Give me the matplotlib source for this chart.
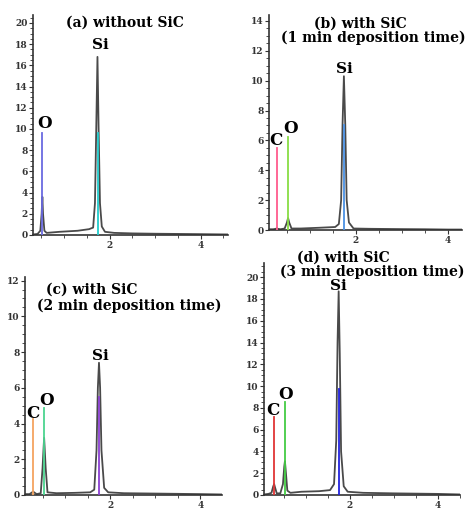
import matplotlib
matplotlib.use('Agg')
import matplotlib.pyplot as plt
from matplotlib.ticker import MultipleLocator, AutoMinorLocator

# EDS spectra (energy in keV, counts in arb. units)
e_a = [0.32, 0.42, 0.48, 0.51, 0.525, 0.54, 0.57, 0.62, 0.9, 1.3, 1.55, 1.64, 1.68, 1.71, 1.735,
       1.76, 1.79, 1.83, 1.9, 2.1, 2.5, 3.0, 3.5, 4.0, 4.6]
c_a = [0.05, 0.1, 0.4, 2.0, 3.6, 2.0, 0.4, 0.2, 0.3, 0.4, 0.55, 0.7, 3.0, 10.5, 16.8,
       10.0, 3.0, 0.8, 0.3, 0.2, 0.15, 0.12, 0.1, 0.08, 0.05]

e_b = [0.11, 0.2, 0.26, 0.28, 0.30, 0.36, 0.45, 0.50, 0.525, 0.55, 0.6, 0.8, 1.2, 1.55, 1.63,
       1.68, 1.71, 1.74, 1.77, 1.8, 1.85, 1.95, 2.3, 3.0, 3.5, 4.0, 4.31]
c_b = [0.05, 0.05, 0.08, 0.12, 0.08, 0.05, 0.1, 0.5, 0.8, 0.5, 0.1, 0.1, 0.15, 0.2, 0.4,
       2.0, 7.0, 10.3, 7.0, 2.0, 0.5, 0.1, 0.08, 0.06, 0.05, 0.03, 0.03]

e_c = [0.1, 0.2, 0.26, 0.28, 0.30, 0.36, 0.45, 0.49, 0.525, 0.56, 0.60, 0.8, 1.2, 1.55, 1.64,
       1.69, 1.72, 1.745, 1.77, 1.8, 1.86, 1.95, 2.3, 3.0, 4.0, 4.48]
c_c = [0.05, 0.05, 0.15, 0.2, 0.15, 0.05, 0.1, 1.5, 3.2, 1.5, 0.15, 0.1, 0.12, 0.15, 0.3,
       2.5, 6.0, 7.4, 6.0, 2.5, 0.4, 0.15, 0.1, 0.08, 0.05, 0.03]

e_d = [0.05, 0.15, 0.22, 0.26, 0.28, 0.30, 0.34, 0.42, 0.48, 0.51, 0.525, 0.54, 0.58, 0.65, 0.9,
       1.3, 1.55, 1.64, 1.69, 1.72, 1.745, 1.77, 1.8, 1.86, 1.95, 2.3, 3.0, 4.0, 4.5]
c_d = [0.05, 0.1, 0.2, 0.8, 1.0, 0.7, 0.15, 0.15, 1.0, 2.6, 3.1, 2.4, 0.4, 0.2, 0.3,
       0.35, 0.45, 1.0, 5.0, 14.0, 18.7, 13.0, 4.0, 0.8, 0.3, 0.2, 0.15, 0.1, 0.05]

# element marker lines: element, energy, height
mark_a = [('O', 0.525, 9.6), ('Si', 1.75, 9.6)]
mark_b = [('C', 0.277, 5.5), ('O', 0.525, 6.2), ('Si', 1.75, 7.0)]
mark_c = [('C', 0.277, 4.25), ('O', 0.525, 4.85), ('Si', 1.75, 5.5)]
mark_d = [('C', 0.277, 7.2), ('O', 0.525, 8.5), ('Si', 1.75, 9.7)]

# element labels: text, x, y (data coords)
lab_a = [('O', 0.57, 10.5), ('Si', 1.79, 17.9)]
lab_b = [('C', 0.27, 5.97), ('O', 0.57, 6.8), ('Si', 1.76, 10.8)]
lab_c = [('C', 0.28, 4.57), ('O', 0.57, 5.27), ('Si', 1.77, 7.8)]
lab_d = [('C', 0.26, 7.8), ('O', 0.55, 9.2), ('Si', 1.74, 19.2)]

W, H = 473, 509
fig = plt.figure(figsize=(W / 100, H / 100), dpi=100)

panels = [
    # rect (px: left, top, right, bottom), xlim, ylim, data, marker colours
    ((33, 15, 228, 235), (0.32, 4.6), (0, 20.75), e_a, c_a, mark_a, lab_a,
     {'O': '#6a6ae0', 'Si': '#22cccc'}),
    ((269, 15, 462, 230), (0.11, 4.31), (0, 14.4), e_b, c_b, mark_b, lab_b,
     {'C': '#ff5c8d', 'O': '#88dd44', 'Si': '#4a90e2'}),
    ((25, 277, 222, 495), (0.1, 4.48), (0, 12.2), e_c, c_c, mark_c, lab_c,
     {'C': '#f4a460', 'O': '#4cd490', 'Si': '#8a3fd1'}),
    ((264, 263, 460, 495), (0.05, 4.5), (0, 21.3), e_d, c_d, mark_d, lab_d,
     {'C': '#e03535', 'O': '#44cc44', 'Si': '#2222dd'}),
]

tick_font = {'family': 'DejaVu Serif', 'weight': 'bold', 'size': 6.5}

for (l, t, r, b), xl, yl, ex, cy, marks, labs, cols in panels:
    ax = fig.add_axes([l / W, 1 - b / H, (r - l) / W, (b - t) / H])
    ax.plot(ex, cy, color='#4a4a4a', lw=1.3, zorder=2)
    for el, x, h in marks:
        ax.plot([x, x], [0, h], color=cols[el], lw=1.3, zorder=3)
    for txt, x, y in labs:
        ax.text(x, y, txt, ha='center', va='center', fontfamily='DejaVu Serif',
                fontweight='bold', fontsize=12 if txt != 'Si' else 11)
    ax.set_xlim(*xl)
    ax.set_ylim(*yl)
    for s in ['top', 'right']:
        ax.spines[s].set_visible(False)
    for s in ['left', 'bottom']:
        ax.spines[s].set_linewidth(1.2)
        ax.spines[s].set_color('#333333')
    ax.xaxis.set_minor_locator(MultipleLocator(0.5))
    ax.yaxis.set_minor_locator(AutoMinorLocator(4))
    ax.tick_params(axis='both', which='major', length=3, width=0.8, pad=1, colors='#333333')
    ax.tick_params(axis='both', which='minor', length=2, width=0.6, colors='#333333')
    ax.set_xticks([2, 4])
    ax.set_xticklabels(['2', '4'], fontdict=tick_font)
    yt = [v for v in range(0, int(yl[1]) + 1, 2)]
    ax.set_yticks(yt)
    ax.set_yticklabels([str(v) for v in yt], fontdict=tick_font)
    ax.set_xlim(*xl)

# panel titles (pixel centres)
titles = [
    ('(a) without SiC', 125, 23),
    ('(b) with SiC', 360, 24),
    ('(1 min deposition time)', 373, 38),
    ('(c) with SiC', 92, 290),
    ('(2 min deposition time)', 129, 306),
    ('(d) with SiC', 343, 258),
    ('(3 min deposition time)', 372, 272),
]
for txt, x, y in titles:
    fig.text(x / W, 1 - y / H, txt, ha='center', va='center',
             fontfamily='DejaVu Serif', fontweight='bold', fontsize=10)

fig.savefig('out.png', dpi=100)
